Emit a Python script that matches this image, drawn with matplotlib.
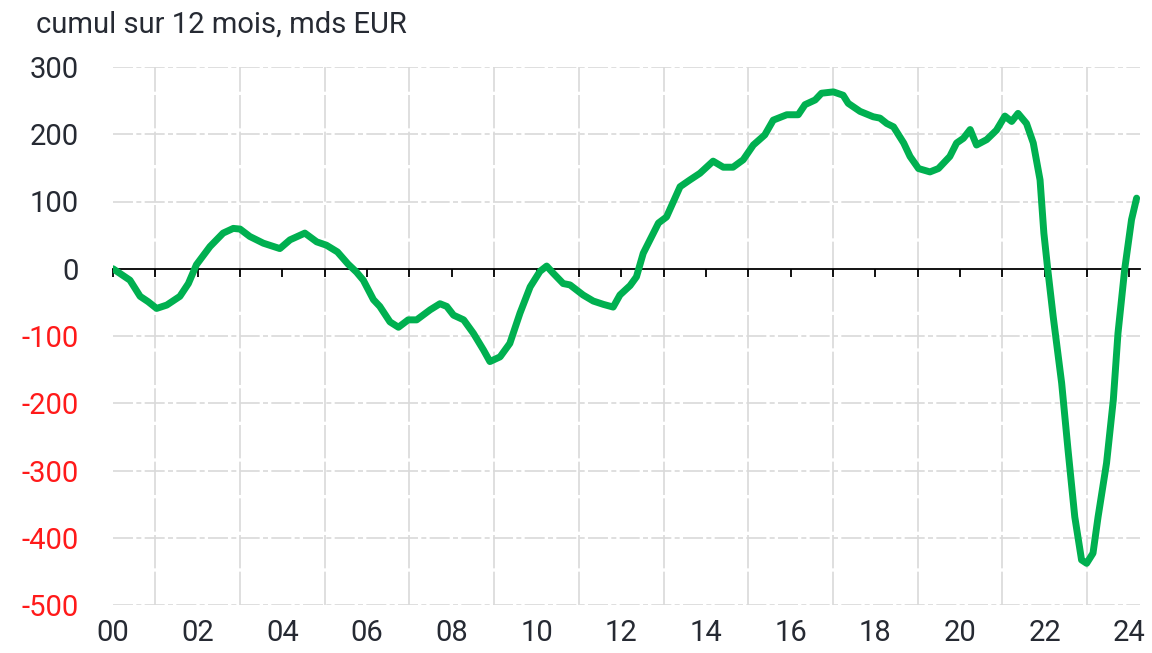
import matplotlib.pyplot as plt

# police proche de l'original
plt.rcParams['font.family'] = ['Roboto', 'DejaVu Sans']

# dates (années décimales) et cumul sur 12 mois, mds EUR
years = [2000.0, 2000.4, 2000.64, 2000.83, 2001.03, 2001.27, 2001.58, 2001.78, 2001.97,
         2002.29, 2002.6, 2002.84, 2003.0, 2003.23, 2003.55, 2003.94, 2004.18, 2004.53,
         2004.81, 2005.04, 2005.3, 2005.55, 2005.75, 2005.91, 2006.15, 2006.3, 2006.54,
         2006.74, 2006.97, 2007.17, 2007.49, 2007.72, 2007.88, 2008.04, 2008.28, 2008.51,
         2008.75, 2008.9, 2009.14, 2009.37, 2009.61, 2009.85, 2010.08, 2010.24, 2010.4,
         2010.63, 2010.79, 2011.1, 2011.34, 2011.58, 2011.81, 2011.97, 2012.21, 2012.36,
         2012.52, 2012.88, 2013.07, 2013.39, 2013.62, 2013.86, 2014.17, 2014.41, 2014.64,
         2014.88, 2015.12, 2015.39, 2015.59, 2015.91, 2016.18, 2016.34, 2016.58, 2016.73,
         2017.01, 2017.24, 2017.36, 2017.64, 2017.95, 2018.11, 2018.27, 2018.43, 2018.67,
         2018.82, 2019.02, 2019.29, 2019.49, 2019.76, 2019.92, 2020.08, 2020.24, 2020.39,
         2020.63, 2020.86, 2021.06, 2021.22, 2021.37, 2021.57, 2021.73, 2021.89, 2021.98,
         2022.07, 2022.2, 2022.4, 2022.55, 2022.71, 2022.87, 2022.99, 2023.14, 2023.26,
         2023.46, 2023.62, 2023.73, 2023.89, 2024.05, 2024.17]
values = [0, -17, -41, -49, -59, -54, -41, -22, 6,
          33, 53, 60, 59, 48, 38, 30, 43, 53,
          40, 35, 25, 7, -5, -17, -46, -56, -79,
          -87, -76, -76, -61, -52, -56, -69, -76, -96,
          -121, -138, -131, -111, -66, -27, -4, 4, -7,
          -22, -24, -39, -48, -53, -57, -39, -25, -12,
          23, 68, 77, 122, 132, 142, 160, 151, 151,
          162, 184, 199, 221, 229, 229, 244, 251, 261,
          263, 258, 246, 234, 226, 224, 216, 211, 187,
          167, 149, 144, 149, 167, 187, 194, 207, 184,
          192, 206, 227, 219, 231, 216, 187, 132, 53,
          0, -71, -170, -269, -369, -433, -438, -423, -369,
          -289, -195, -96, 0, 73, 105]

yticks = list(range(-500, 301, 100))
year_labels = ['00', '02', '04', '06', '08', '10', '12', '14', '16', '18', '20', '22', '24']

text_color = '#262a33'
grid_color = '#d9d9d9'

fig = plt.figure(figsize=(11.52, 6.53), dpi=100)
ax = fig.add_axes([113 / 1152, 48 / 653, 1027 / 1152, 538 / 653])

# grille
for y in yticks:
    if y != 0:
        ax.axhline(y, color=grid_color, lw=1.2, ls=(0, (12, 2, 3, 2)), zorder=0)
for x in range(2001, 2025, 2):
    ax.axvline(x, color=grid_color, lw=1.2, ls=(0, (20, 2)), zorder=0)

ax.plot(years, values, color='#00B050', lw=5, solid_capstyle='round',
        solid_joinstyle='round', zorder=3)

ax.set_xlim(2000, 2024.25)
ax.set_ylim(-500, 300)

for side in ['top', 'right', 'left']:
    ax.spines[side].set_visible(False)
ax.spines['bottom'].set_position(('data', 0))
ax.spines['bottom'].set_color('black')
ax.spines['bottom'].set_linewidth(1.3)
ax.spines['bottom'].set_zorder(2)

ax.set_xticks(range(2000, 2025))
ax.tick_params(axis='x', direction='out', length=6, width=1.3, color='black',
               labelbottom=False)

ax.set_yticks(yticks)
ax.set_yticklabels([str(v) for v in yticks])
ax.tick_params(axis='y', length=0, pad=25, labelsize=21)
for lbl, v in zip(ax.get_yticklabels(), yticks):
    lbl.set_color('#ff1a1a' if v < 0 else text_color)

# étiquettes des années en bas
secax = ax.secondary_xaxis(0.0)
secax.set_xticks(range(2000, 2025, 2))
secax.set_xticklabels(year_labels)
secax.tick_params(axis='x', length=0, pad=10, labelsize=21, labelcolor=text_color)
secax.spines['bottom'].set_visible(False)

fig.text(36 / 1152, 1 - 33 / 653, 'cumul sur 12 mois, mds EUR', fontsize=21,
         color=text_color, va='baseline', ha='left')

fig.savefig('out.png', dpi=100)
